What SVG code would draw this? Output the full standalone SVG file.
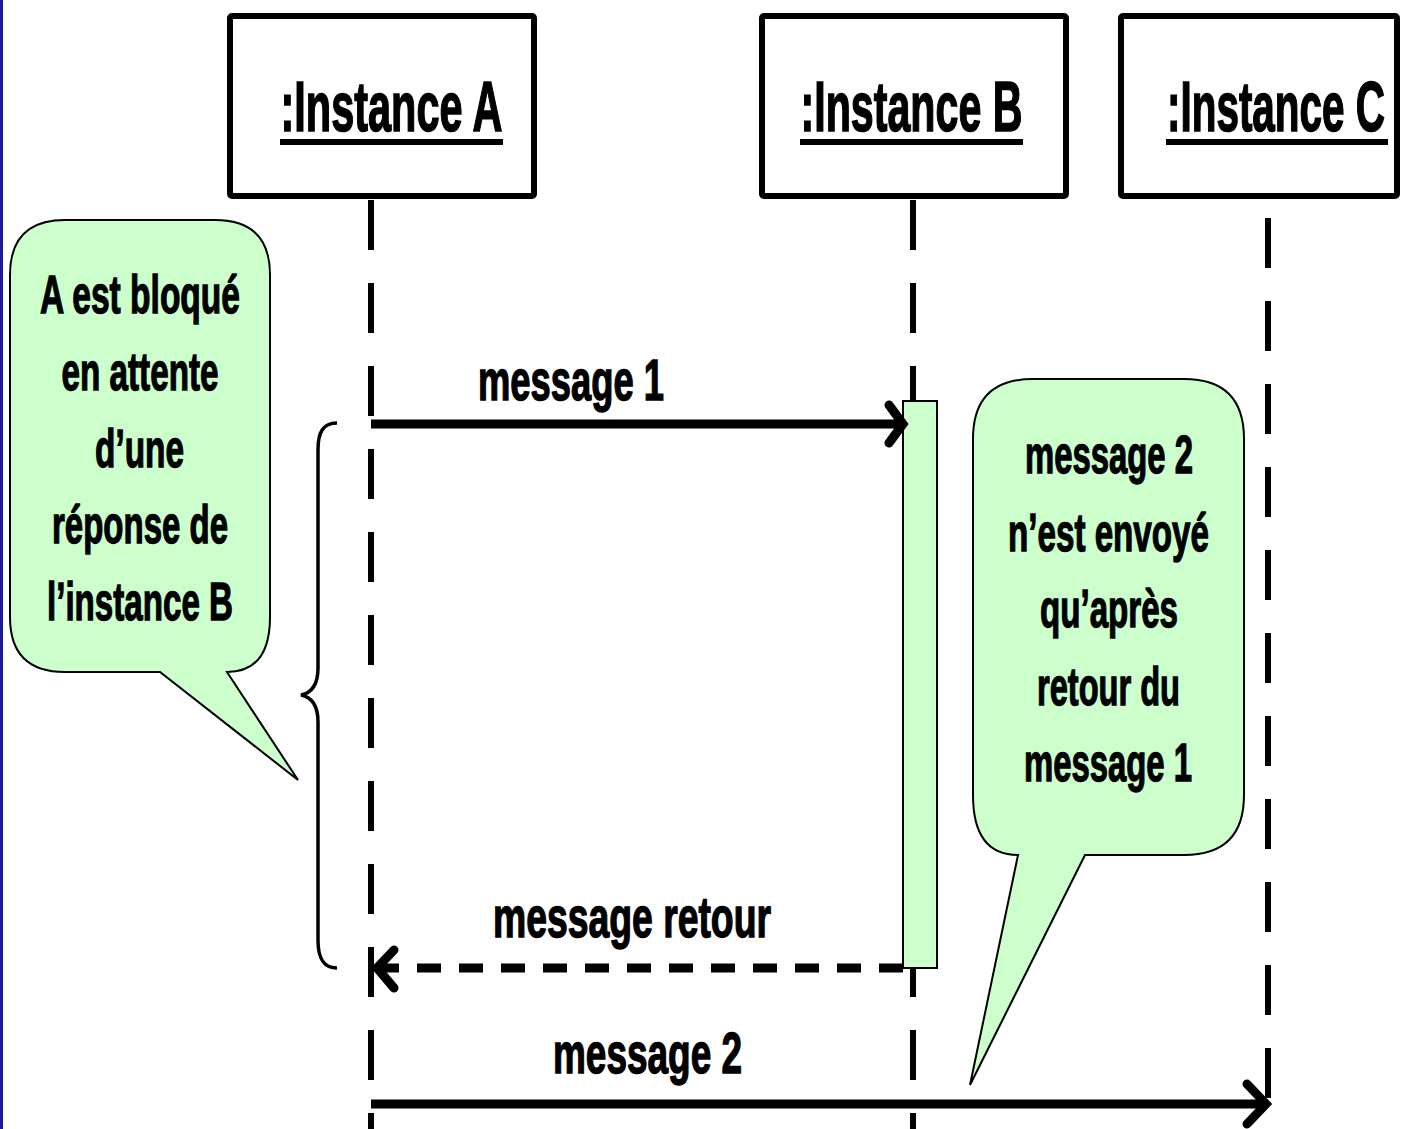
<svg xmlns="http://www.w3.org/2000/svg" width="1407" height="1129" viewBox="0 0 1407 1129">
  <style>
    .box { fill: #ffffff; stroke: #000000; stroke-width: 6; }
    .title { font-family: "Liberation Sans", Arial, sans-serif; font-weight: bold; font-size: 71px; fill: #000; stroke: #000; stroke-width: 1.6; text-anchor: middle; }
    .note { font-family: "Liberation Sans", Arial, sans-serif; font-weight: bold; font-size: 53px; fill: #000; stroke: #000; stroke-width: 1.3; text-anchor: middle; }
    .lbl { font-family: "Liberation Sans", Arial, sans-serif; font-weight: bold; font-size: 57px; fill: #000; stroke: #000; stroke-width: 1.4; text-anchor: middle; }
    .life { stroke: #000; stroke-width: 6; stroke-dasharray: 50 33; fill: none; }
    .msg { stroke: #000; stroke-width: 9; fill: none; }
    .head { stroke: #000; stroke-width: 9; fill: none; stroke-linecap: round; stroke-linejoin: miter; }
    .callout { fill: #ccffcc; stroke: #000; stroke-width: 2; }
  </style>
  <rect x="0" y="0" width="1407" height="1129" fill="#ffffff"/>
  <rect x="0" y="0" width="3" height="1129" fill="#1a1a99"/>

  <g id="lifelines">
    <line class="life" x1="371" y1="200" x2="371" y2="1129"/>
    <line class="life" x1="913" y1="200" x2="913" y2="1129"/>
    <line class="life" x1="1268" y1="218" x2="1268" y2="1104"/>
  </g>

  <g id="instanceA">
    <rect class="box" x="230" y="16" width="304" height="180" rx="2"/>
    <text class="title" x="391.5" y="131" textLength="222" lengthAdjust="spacingAndGlyphs">:Instance A</text>
    <rect x="280" y="139" width="223" height="6" fill="#000"/>
  </g>
  <g id="instanceB">
    <rect class="box" x="762" y="16" width="304" height="180" rx="2"/>
    <text class="title" x="911.5" y="131" textLength="222" lengthAdjust="spacingAndGlyphs">:Instance B</text>
    <rect x="800" y="139" width="223" height="6" fill="#000"/>
  </g>
  <g id="instanceC">
    <rect class="box" x="1121" y="16" width="276" height="180" rx="2"/>
    <text class="title" transform="translate(1276,131) scale(0.57,1)" x="0" y="0">:Instance C</text>
    <rect x="1166" y="139" width="222" height="6" fill="#000"/>
  </g>

  <g id="activationB">
    <rect x="903" y="401" width="34" height="567" fill="#ccffcc" stroke="#000" stroke-width="2"/>
  </g>

  <g id="connectors">
    <line class="msg" x1="371" y1="424" x2="900" y2="424"/>
    <polyline class="head" points="889,405 903,424 889,443"/>
    <line class="msg" x1="903" y1="968" x2="380" y2="968" stroke-dasharray="24 18"/>
    <polyline class="head" points="394,950 377,968 394,988"/>
    <line class="msg" x1="371" y1="1104" x2="1264" y2="1104"/>
    <polyline class="head" points="1247,1084 1266,1104 1247,1124"/>
    <path d="M337,423 C323,423 318,432 318,450 L318,668 C318,685 311,693 301,695 C311,697 318,705 318,722 L318,940 C318,958 323,968 337,968" fill="none" stroke="#000" stroke-width="3.5"/>
  </g>

  <g id="labels">
    <text class="lbl" x="571" y="400" textLength="186" lengthAdjust="spacingAndGlyphs">message 1</text>
    <text class="lbl" x="632" y="937" textLength="278" lengthAdjust="spacingAndGlyphs">message retour</text>
    <text class="lbl" x="647.5" y="1073" textLength="189" lengthAdjust="spacingAndGlyphs">message 2</text>
  </g>

  <g id="noteA">
    <path class="callout" d="M65,220 L215,220 Q270,220 270,275 L270,617 Q270,672 227,672 L298,780 L160,672 L65,672 Q10,672 10,617 L10,275 Q10,220 65,220 Z"/>
    <text class="note" x="140" y="313" textLength="200" lengthAdjust="spacingAndGlyphs">A est bloqué</text>
    <text class="note" x="140" y="390" textLength="157" lengthAdjust="spacingAndGlyphs">en attente</text>
    <text class="note" x="139.5" y="467" textLength="89" lengthAdjust="spacingAndGlyphs">d’une</text>
    <text class="note" x="140" y="543" textLength="176" lengthAdjust="spacingAndGlyphs">réponse de</text>
    <text class="note" x="140" y="620" textLength="186" lengthAdjust="spacingAndGlyphs">l’instance B</text>
  </g>

  <g id="noteB">
    <path class="callout" d="M1033,379 L1184,379 Q1244,379 1244,439 L1244,795 Q1244,855 1184,855 L1085,855 L970,1085 L1018,855 Q973,855 973,795 L973,439 Q973,379 1033,379 Z"/>
    <text class="note" x="1109" y="473" textLength="168" lengthAdjust="spacingAndGlyphs">message 2</text>
    <text class="note" x="1108.5" y="551" textLength="201" lengthAdjust="spacingAndGlyphs">n’est envoyé</text>
    <text class="note" x="1109" y="627" textLength="138" lengthAdjust="spacingAndGlyphs">qu’après</text>
    <text class="note" x="1108.5" y="705" textLength="143" lengthAdjust="spacingAndGlyphs">retour du</text>
    <text class="note" x="1108" y="781" textLength="168" lengthAdjust="spacingAndGlyphs">message 1</text>
  </g>
</svg>
